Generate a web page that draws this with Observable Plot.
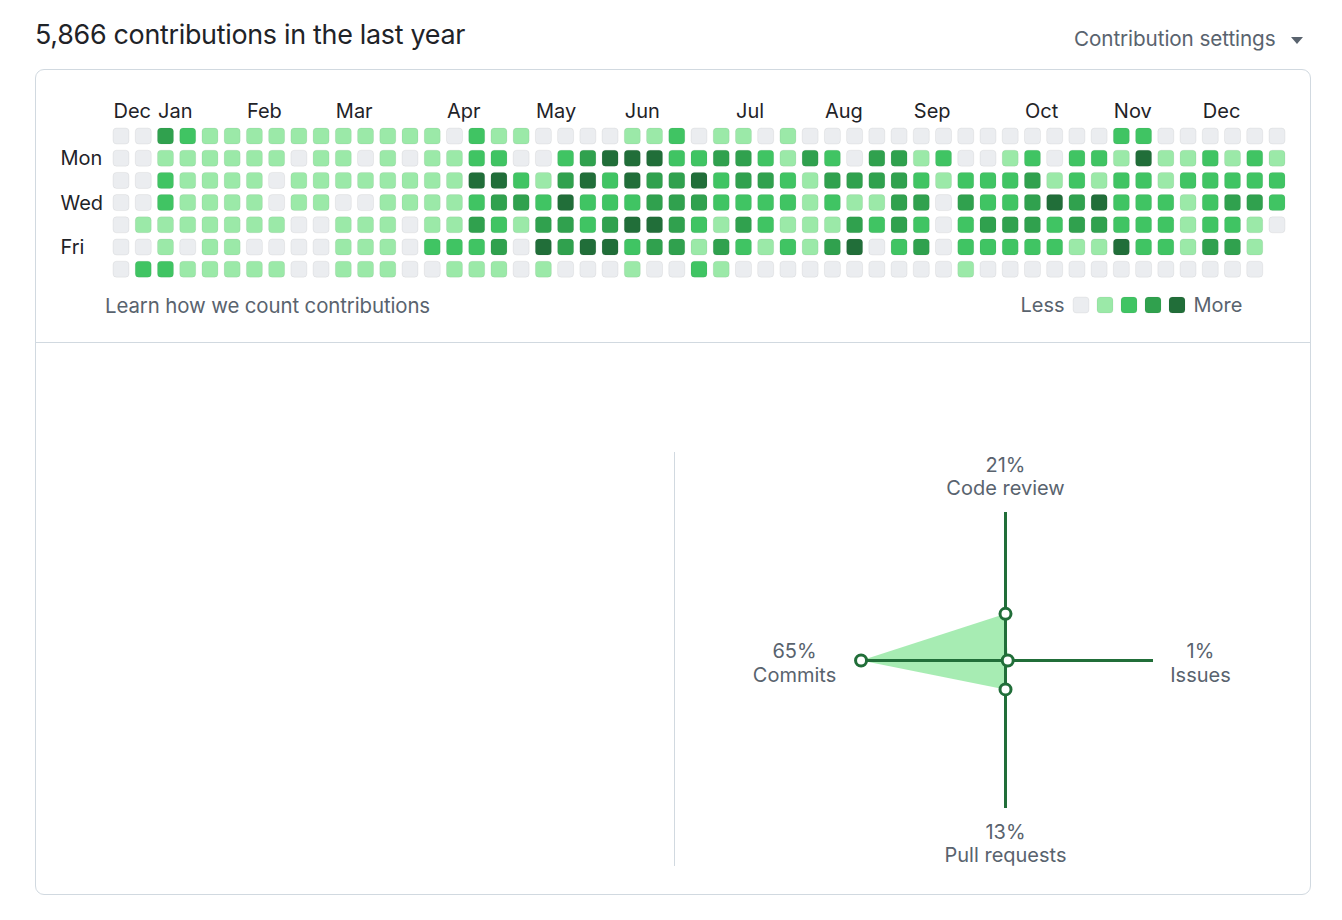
<!DOCTYPE html>
<html>
<head>
<meta charset="utf-8">
<script src="https://cdn.jsdelivr.net/npm/d3@7"></script>
<script src="https://cdn.jsdelivr.net/npm/@observablehq/plot@0.6"></script>
<style>
  html, body { margin: 0; padding: 0; background: #fff; }
  body { width: 1342px; height: 920px; position: relative; overflow: hidden; font-family: Inter, "Noto Sans", sans-serif; }
  .abs { position: absolute; }
  #title { left: 35px; top: 18px; font-size: 26.9px; color: #1f2328; white-space: nowrap; letter-spacing: -0.3px; }
  #settings { left: 1074px; top: 26px; font-size: 20.7px; color: #59636e; white-space: nowrap; letter-spacing: -0.1px; }
  #caret { left: 1291px; top: 37px; width: 0; height: 0; border-left: 6px solid transparent; border-right: 6px solid transparent; border-top: 7px solid #59636e; }
  #box { left: 35px; top: 69px; width: 1274px; height: 824px; border: 1px solid #d1d9e0; border-radius: 9px; }
  #divider { left: 36px; top: 342px; width: 1274px; height: 1px; background: #d1d9e0; }
  #vline { left: 674px; top: 452px; width: 1px; height: 414px; background: #d1d9e0; }
  #learn { left: 105px; top: 293px; font-size: 20.4px; color: #59636e; white-space: nowrap; letter-spacing: -0.1px; }
  svg { overflow: visible; }
</style>
</head>
<body>
<div id="title" class="abs">5,866 contributions in the last year</div>
<div id="settings" class="abs">Contribution settings</div>
<div id="caret" class="abs"></div>
<div id="box" class="abs"></div>
<div id="divider" class="abs"></div>
<div id="vline" class="abs"></div>
<div id="learn" class="abs">Learn how we count contributions</div>
<div id="heat" class="abs" style="left:0;top:0;"></div>
<div id="legend" class="abs" style="left:1005px;top:297px;"></div>
<div id="radar" class="abs" style="left:705px;top:420px;"></div>
<script>
// ---- Contribution levels (0–4), one array per weekday, one value per week column ----
const sunday    = [0,0,3,2,1,1,1,1,1,1,1,1,1, 1,1,0,2,1,1,0,0,0,0,1,1,2, 0,1,1,0,1,0,0,0,0,0,0,0,0, 0,0,0,0,0,0,2,2,0,0,0,0,0,0];
const monday    = [0,0,1,1,1,1,1,1,0,1,1,0,1, 0,1,1,2,2,0,0,2,3,4,4,4,2, 2,3,3,2,1,3,2,0,3,3,1,2,0, 0,1,2,0,2,2,1,4,1,1,2,1,2,1];
const tuesday   = [0,0,2,1,1,1,1,0,1,1,1,1,1, 1,1,1,4,4,2,1,3,4,2,4,3,3, 4,2,3,3,2,1,3,3,3,3,2,1,2, 2,2,3,1,2,1,2,2,1,2,2,2,2,2];
const wednesday = [0,0,2,1,1,1,1,0,1,1,0,0,1, 1,1,1,2,3,3,2,4,2,2,2,3,3, 3,2,2,2,2,1,2,1,1,3,3,0,3, 2,2,3,4,3,4,2,2,2,1,2,3,3,2];
const thursday  = [0,1,1,1,1,1,1,1,0,0,1,1,1, 0,1,1,3,2,1,3,3,2,3,4,4,3, 2,1,3,2,1,1,1,3,2,3,2,0,2, 3,3,3,2,3,3,2,2,2,1,2,2,1,0];
const friday    = [0,0,1,0,1,1,0,0,0,0,1,1,1, 0,2,2,2,3,0,4,3,4,4,2,3,3, 1,3,2,1,2,1,3,4,0,2,3,0,2, 2,2,2,2,1,1,4,2,2,1,3,3,1];
const saturday  = [0,2,2,1,1,1,1,1,0,0,1,1,1, 0,0,1,1,1,0,1,0,0,0,1,0,0, 2,1,0,0,0,0,0,0,0,0,0,0,1, 0,0,0,0,0,0,0,0,0,0,0,0,0];

const monthNames = ["Dec","Jan","Feb","Mar","Apr","May","Jun","Jul","Aug","Sep","Oct","Nov","Dec"];
const monthWeeks = [0, 2, 6, 10, 15, 19, 23, 28, 32, 36, 41, 45, 49];
const dayNames = ["Mon","Wed","Fri"];
const dayRows  = [1, 3, 5];
const levels = [0, 1, 2, 3, 4];
const palette = ["#ebedf0", "#9be9a8", "#40c463", "#30a14e", "#216e39"];

// ---- Activity overview ----
const radarCategories = ["Code review", "Issues", "Pull requests", "Commits"];
const radarPercents   = [21, 1, 13, 65];
const radarDirX = [0, 1, 0, -1];
const radarDirY = [1, 0, -1, 0];

const weekdays = [sunday, monday, tuesday, wednesday, thursday, friday, saturday];
const nWeeks = sunday.length;
const cells = [];
weekdays.forEach((arr, day) => arr.forEach((level, week) => cells.push({week, day, level})));
const months = monthNames.map((label, i) => ({label, week: monthWeeks[i]}));
const dayLabels = dayNames.map((label, i) => ({label, day: dayRows[i]}));

const colorScale = {type: "ordinal", domain: levels, range: palette};
const ink = "#1f2328";
const muted = "#59636e";
const font = "Inter, 'Noto Sans', sans-serif";

const heat = Plot.plot({
  width: 1342, height: 300,
  marginLeft: 106.8, marginRight: 50.8, marginTop: 121.8, marginBottom: 300 - 121.8 - 161.6,
  style: {fontFamily: font, background: "transparent"},
  x: {type: "band", domain: d3.range(nWeeks), padding: 0.28, round: false, axis: null},
  y: {type: "band", domain: d3.range(7), padding: 0.28, round: false, axis: null},
  color: colorScale,
  marks: [
    Plot.cell(cells, {x: "week", y: "day", fill: "level", rx: 3.5, stroke: "rgba(27,31,35,0.06)", strokeWidth: 1}),
    Plot.text(months, {x: "week", text: "label", frameAnchor: "top", lineAnchor: "middle", dx: -8, dy: -11, textAnchor: "start", fontSize: 20, fill: ink}),
    Plot.text(dayLabels, {y: "day", text: "label", frameAnchor: "left", lineAnchor: "middle", dx: -46.8, textAnchor: "start", fontSize: 20, fill: ink})
  ]
});
document.getElementById("heat").appendChild(heat);

const legend = Plot.plot({
  width: 250, height: 16,
  marginLeft: 60, marginRight: 62, marginTop: 0, marginBottom: 0,
  style: {fontFamily: font, background: "transparent"},
  x: {type: "band", domain: levels, padding: 1/3, round: false, axis: null},
  y: {type: "band", domain: [0], padding: 0, round: false, axis: null},
  color: colorScale,
  marks: [
    Plot.cell(levels, {x: d => d, y: () => 0, fill: d => d, rx: 3.5, stroke: "rgba(27,31,35,0.06)"}),
    Plot.text(["Less"], {frameAnchor: "left", lineAnchor: "middle", dx: -1, textAnchor: "end", fontSize: 20, fill: muted}),
    Plot.text(["More"], {frameAnchor: "right", lineAnchor: "middle", dx: 0, textAnchor: "start", fontSize: 20, fill: muted})
  ]
});
document.getElementById("legend").appendChild(legend);

const pts = radarCategories.map((name, i) => ({
  name, pct: radarPercents[i], dx: radarDirX[i], dy: radarDirY[i],
  x: radarDirX[i] * radarPercents[i], y: radarDirY[i] * radarPercents[i]
}));
const axisExtent = 66.6;
const axisEnds = pts.map(p => ({...p, ex: p.dx * axisExtent, ey: p.dy * axisExtent}));
const offX = p => p.dx < 0 ? -63 : p.dx > 0 ? 47 : 0;
const offYPct = p => p.dy > 0 ? -47 : p.dy < 0 ? 24 : -9;
const offYName = p => p.dy > 0 ? -24 : p.dy < 0 ? 47 : 15;
const green = "#216e39";

const radarMarks = [
  Plot.line(pts, {x: "x", y: "y", curve: "linear-closed", fill: "#9be9a8", fillOpacity: 0.88, stroke: "none"}),
  Plot.ruleX([0], {y1: -axisExtent, y2: axisExtent, stroke: green, strokeWidth: 3}),
  Plot.ruleY([0], {x1: -axisExtent, x2: axisExtent, stroke: green, strokeWidth: 3}),
  Plot.dot(pts, {x: "x", y: "y", r: 5.5, fill: "white", stroke: green, strokeWidth: 3})
];
axisEnds.forEach(p => {
  radarMarks.push(Plot.text([p], {x: "ex", y: "ey", text: d => d.pct + "%", dx: offX(p), dy: offYPct(p), fontSize: 20, fill: muted}));
  radarMarks.push(Plot.text([p], {x: "ex", y: "ey", text: "name", dx: offX(p), dy: offYName(p), fontSize: 20, fill: muted}));
});

const radar = Plot.plot({
  width: 600, height: 480,
  margin: 0,
  style: {fontFamily: font, background: "transparent"},
  x: {domain: [-135, 135], axis: null},
  y: {domain: [-108, 108], axis: null},
  marks: radarMarks
});
document.getElementById("radar").appendChild(radar);
</script>
</body>
</html>
